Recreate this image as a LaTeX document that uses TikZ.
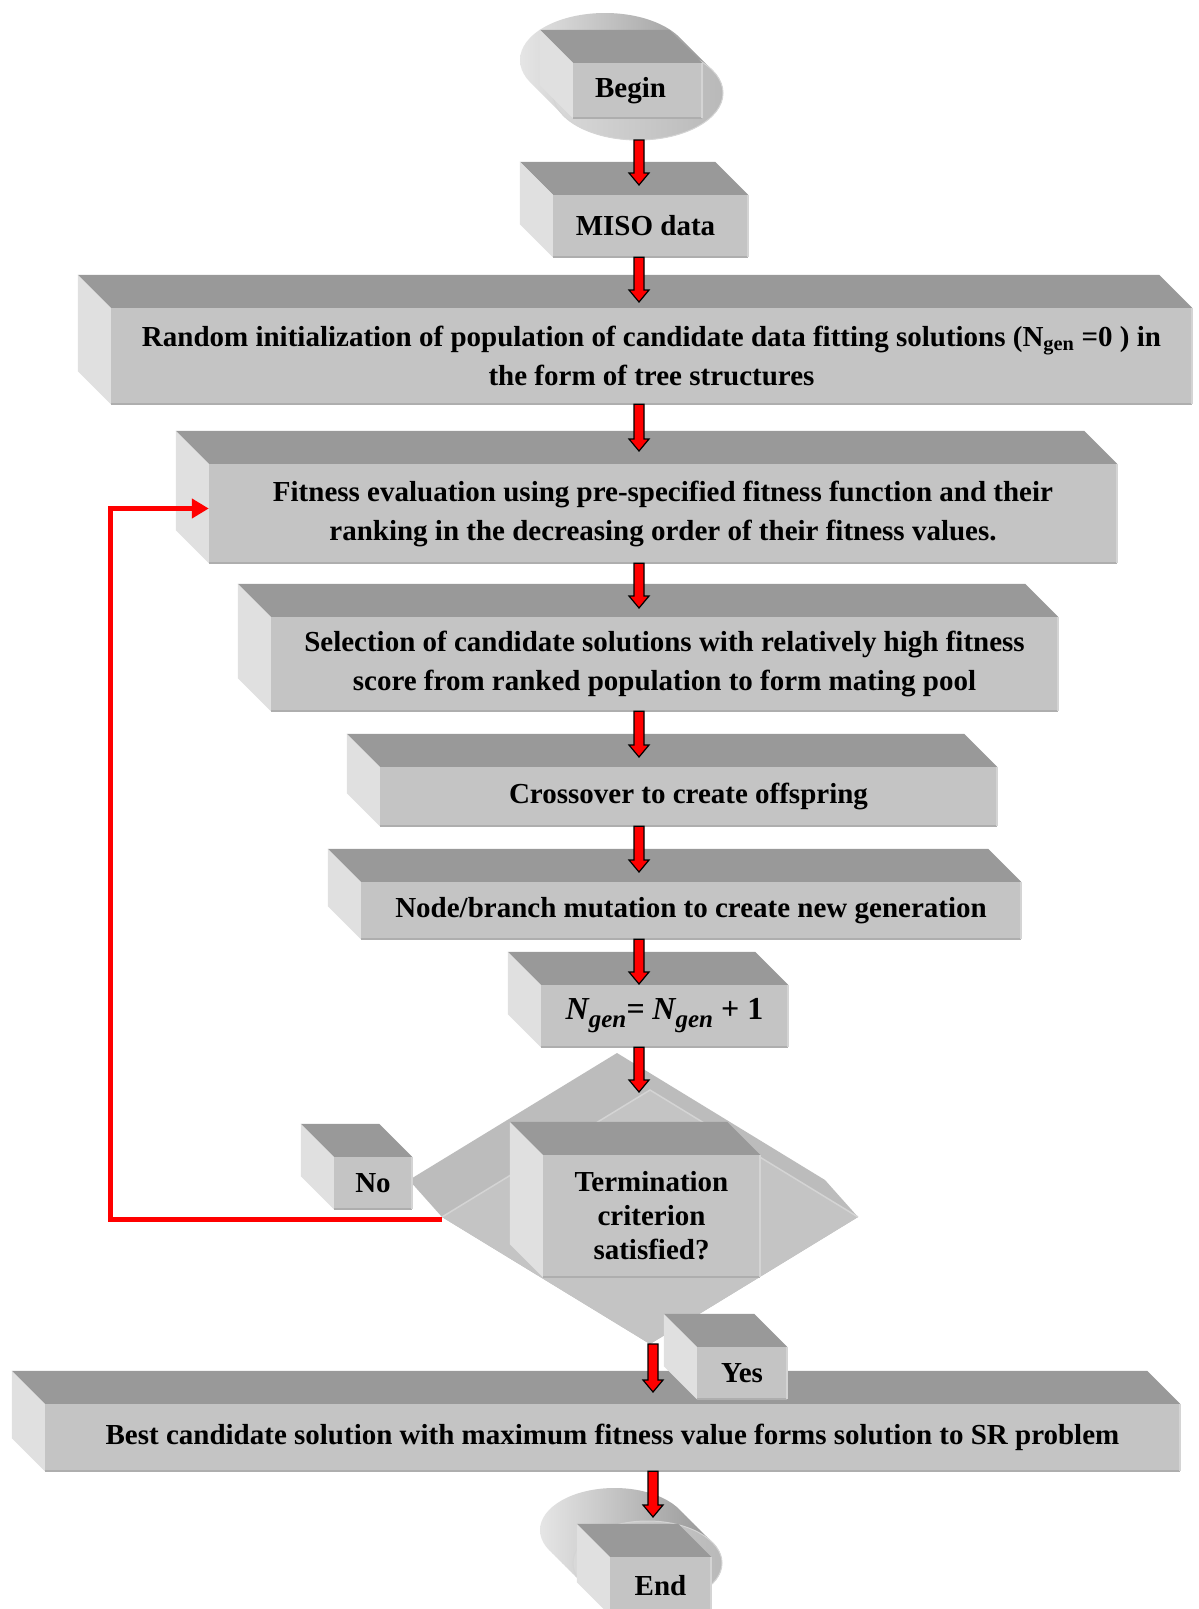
\documentclass[tikz,border=0pt]{standalone}
\usepackage{fontspec}
\setmainfont{Liberation Serif}
\usetikzlibrary{arrows.meta,calc}

\definecolor{facegray}{HTML}{C4C4C4}
\definecolor{topgray}{HTML}{999999}
\definecolor{sidegray}{HTML}{E0E0E0}
\definecolor{edgedark}{HTML}{AEAEAE}
\definecolor{edgelight}{HTML}{D4D4D4}
\definecolor{bandgray}{HTML}{BCBCBC}
\definecolor{rimgray}{HTML}{D4D4D4}

\newcommand\boxfont{\fontsize{29}{39}\selectfont\bfseries}
\newcommand\gensub{\raisebox{-8pt}{\fontsize{25}{25}\selectfont gen}}

\tikzset{
  front/.style={rectangle, fill=facegray, inner sep=0pt, align=center, font=\boxfont},
  blockarrow/.style={fill=red, draw=black, line width=1.2pt, line join=miter},
  redloop/.style={draw=red, line width=5pt, line join=miter,
    -{Triangle[length=17pt,width=19pt]}},
}

% top and left faces of an extruded box, drawn from its front face
\newcommand\boxsides[1]{%
  \fill[topgray] (#1.north west) -- (#1.north east) -- ++(-33pt,33pt)
    -- ([shift={(-33pt,33pt)}]#1.north west) -- cycle;
  \fill[sidegray] (#1.north west) -- ([shift={(-33pt,33pt)}]#1.north west)
    -- ([shift={(-33pt,33pt)}]#1.south west) -- (#1.south west) -- cycle;
  \draw[edgedark, line width=1.6pt] (#1.south west) -- (#1.south east);
  \draw[edgelight, line width=1.6pt] (#1.south east) -- (#1.north east);
}

% red block arrow pointing down, from the level of #1 to the tip #2
\newcommand\redarrow[2]{%
  \path[blockarrow] let \p1=(#1), \p2=(#2) in
    ({\x2-5pt},\y1) -- ({\x2+5pt},\y1) -- ({\x2+5pt},{\y2+12pt})
    -- ({\x2+10pt},{\y2+12pt}) -- (\x2,\y2) -- ({\x2-10pt},{\y2+12pt})
    -- ({\x2-5pt},{\y2+12pt}) -- cycle;}

\begin{document}
\begin{tikzpicture}[x=1pt,y=-1pt]
\useasboundingbox (0,0) rectangle (1199,1609);
\fill[white] (0,0) rectangle (1199,1609);

% ---- Begin terminal: extruded ellipse with a box in front
\shade[left color=white!80!gray, right color=gray!85]
  \foreach \i in {0,...,10} {(605+3.3*\i,60+3.3*\i) ellipse [x radius=85pt, y radius=47pt]};
\shade[left color=white!70!gray, right color=white!45!gray]
  (638,93) ellipse [x radius=85pt, y radius=47pt];
\draw[rimgray, line width=1pt] (638,93) ellipse [x radius=85pt, y radius=47pt];
\node[front, minimum width=129pt, minimum height=55pt] (begin) at (637.5,90.5)
  {\hspace*{-14pt}\raisebox{-3pt}{Begin}};
\boxsides{begin}
\coordinate (beginbot) at (639,140);

% ---- process boxes
\node[front, minimum width=195pt, minimum height=62pt] (miso) at (650.5,226)
  {\hspace*{-10pt}MISO data};
\boxsides{miso}

\node[front, minimum width=1081pt, minimum height=96pt] (rand) at (651.5,356)
  {Random initialization of population of candidate data fitting solutions (N\textsubscript{gen} =0 ) in\\
   the form of tree structures};
\boxsides{rand}

\node[front, minimum width=908pt, minimum height=99pt] (fit) at (663,513.5)
  {Fitness evaluation using pre-specified fitness function and their\\
   ranking in the decreasing order of their fitness values.};
\boxsides{fit}

\node[front, minimum width=787pt, minimum height=94pt] (sel) at (664.5,664)
  {Selection of candidate solutions with relatively high fitness\\
   score from ranked population to form mating pool};
\boxsides{sel}

\node[front, minimum width=617pt, minimum height=59pt] (cross) at (688.5,796.5)
  {Crossover to create offspring};
\boxsides{cross}

\node[front, minimum width=660pt, minimum height=57pt] (mut) at (691,910.5)
  {Node/branch mutation to create new generation};
\boxsides{mut}

\node[front, minimum width=247pt, minimum height=62pt,
      font={\fontsize{32}{32}\selectfont\bfseries}] (ngen) at (664.5,1016)
  {{\itshape N\gensub= N\gensub} + 1};
\boxsides{ngen}

% ---- decision: extruded diamond
\fill[bandgray] (617,1053) -- (409,1180) -- (442,1217) -- (650,1344)
  -- (858,1217) -- (825,1180) -- cycle;
\fill[facegray] (650,1090) -- (442,1217) -- (650,1344) -- (858,1217) -- cycle;
\draw[edgelight, line width=1.5pt] (442,1217) -- (650,1090) -- (858,1217);
\coordinate (dleft) at (442,1219);
\coordinate (dbottom) at (653,1344);

\node[front, minimum width=78pt, minimum height=52pt] (no) at (373,1183) {No};
\boxsides{no}

\node[front, minimum width=217pt, minimum height=122pt,
      font={\fontsize{29}{34}\selectfont\bfseries}] (term) at (651.5,1216)
  {Termination\\ criterion\\ satisfied?};
\boxsides{term}

% ---- final result
\node[front, minimum width=1135pt, minimum height=67pt] (best) at (612.5,1437.5)
  {Best candidate solution with maximum fitness value forms solution to SR problem};
\boxsides{best}

\node[front, minimum width=90pt, minimum height=52pt] (yes) at (742,1373) {Yes};
\boxsides{yes}

% ---- End terminal
\shade[left color=white!80!gray, right color=gray!85]
  \foreach \i in {0,...,10} {(614.5+3.3*\i,1530+3.3*\i) ellipse [x radius=74.5pt, y radius=42pt]};
\shade[left color=white!70!gray, right color=white!45!gray]
  (647.5,1563) ellipse [x radius=74.5pt, y radius=42pt];
\draw[rimgray, line width=1pt] (647.5,1563) ellipse [x radius=74.5pt, y radius=42pt];
\node[front, minimum width=101pt, minimum height=58pt] (end) at (660.5,1586) {End};
\boxsides{end}

% ---- flow arrows
\coordinate (t1) at (639,185);
\coordinate (t2) at (639,302);
\coordinate (t3) at (639,451);
\coordinate (t4) at (639,608);
\coordinate (t5) at (639,757);
\coordinate (t6) at (639,872);
\coordinate (t7) at (639,984);
\coordinate (t8) at (639,1092);
\coordinate (t9) at (653,1392);
\coordinate (t10) at (653,1517);
\redarrow{beginbot}{t1}
\redarrow{miso.south}{t2}
\redarrow{rand.south}{t3}
\redarrow{fit.south}{t4}
\redarrow{sel.south}{t5}
\redarrow{cross.south}{t6}
\redarrow{mut.south}{t7}
\redarrow{ngen.south}{t8}
\redarrow{dbottom}{t9}
\redarrow{best.south}{t10}

% ---- "No" loop back to the fitness evaluation
\coordinate (loopcorner) at (110,508.5);
\draw[redloop] (dleft) -| (loopcorner) -- (loopcorner -| fit.west);
\end{tikzpicture}
\end{document}
